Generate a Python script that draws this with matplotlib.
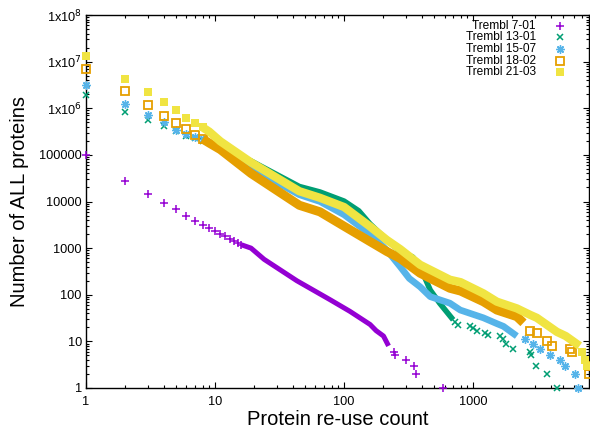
import matplotlib
matplotlib.use("Agg")
import matplotlib.pyplot as plt
from matplotlib.ticker import FixedLocator, LogLocator, NullFormatter

plt.rcParams['font.family'] = ['Liberation Sans', 'DejaVu Sans']

# ---------------- data ----------------
labels = ["Trembl 7-01", "Trembl 13-01", "Trembl 15-07", "Trembl 18-02", "Trembl 21-03"]

# Trembl 7-01
p_sep_x = [1, 2, 3, 4, 5, 6, 7, 8, 9, 10, 11, 12, 13, 14, 15, 16]
p_sep_y = [1.0e5, 2.7e4, 1.45e4, 9.5e3, 6.8e3, 5.0e3, 3.9e3, 3.2e3, 2.7e3, 2.35e3, 2.05e3, 1.82e3, 1.6e3,
           1.45e3, 1.3e3, 1.18e3]
p_band_x = [16, 19, 24, 43, 78, 111, 159, 177, 202, 221]
p_band_y = [1180, 1000, 575, 200, 78, 44, 23, 17, 13, 8]
p_tail_x = [242, 248, 303, 345, 359, 582]
p_tail_y = [6, 5, 4, 3, 2, 1]

# Trembl 13-01
g_sep_x = [1, 2, 3, 4, 5, 6, 7, 8]
g_sep_y = [1.95e6, 8.5e5, 5.6e5, 4.2e5, 3.2e5, 2.6e5, 2.3e5, 2.0e5]
g_band_x = [8, 9, 11, 19, 45, 65, 100, 130, 159, 214, 272, 340, 388, 465, 550, 700]
g_band_y = [2.0e5, 1.78e5, 1.51e5, 7.4e4, 2.1e4, 1.6e4, 1.02e4, 6300, 3300, 1510, 850, 645, 400, 126, 66, 29]
g_tail_x = [725, 769, 948, 1000, 1069, 1239, 1314, 1618, 1717, 1802, 2053, 2767, 2820, 3060, 3725, 4455]
g_tail_y = [26, 22, 21, 19, 17, 15, 14, 13, 11, 9, 7, 6, 5, 3, 2, 1]

# Trembl 15-07
b_sep_x = [1, 2, 3, 4, 5, 6, 7, 8]
b_sep_y = [3.2e6, 1.23e6, 7.1e5, 5.0e5, 3.5e5, 2.8e5, 2.45e5, 2.15e5]
b_band_x = [8, 9, 11, 19, 45, 65, 100, 159, 214, 272, 320, 388, 465, 660, 794, 1200, 1527, 1717, 2180]
b_band_y = [2.15e5, 1.8e5, 1.3e5, 5.2e4, 1.4e4, 1.0e4, 5200, 2000, 910, 400, 224, 148, 91, 66, 47, 32, 24, 21, 13]
b_tail_x = [2530, 2930, 3305, 3953, 4725, 5165, 6180, 6440]
b_tail_y = [11, 9, 7, 5, 4, 3, 2, 1]

# Trembl 18-02
o_sep_x = [1, 2, 3, 4, 5, 6, 7, 8]
o_sep_y = [7.1e6, 2.3e6, 1.15e6, 6.9e5, 4.8e5, 3.55e5, 2.7e5, 2.2e5]
o_band_x = [8, 9, 11, 19, 45, 65, 100, 159, 214, 272, 388, 660, 800, 1200, 1527, 2180, 2454]
o_band_y = [2.2e5, 1.8e5, 1.3e5, 4.0e4, 8300, 6000, 2950, 1380, 850, 600, 290, 138, 120, 71, 47, 34, 25]
o_tail_x = [2767, 3115, 3725, 4065, 5650, 5820, 7900, 7900]
o_tail_y = [17, 15, 10, 8, 7, 6, 3, 2]

# Trembl 21-03
y_sep_x = [1, 2, 3, 4, 5, 6, 7, 8]
y_sep_y = [1.35e7, 4.3e6, 2.2e6, 1.33e6, 9.0e5, 6.3e5, 4.9e5, 3.9e5]
y_band_x = [8, 9, 10, 11, 19, 45, 65, 100, 159, 214, 272, 388, 660, 800, 1200, 1527, 2180, 2767, 3115, 4455, 5220, 6680]
y_band_y = [3.9e5, 3.16e5, 2.45e5, 1.95e5, 6.9e4, 1.66e4, 1.2e4, 7600, 2900, 1500, 950, 440, 210, 186, 107, 71, 51, 37, 32, 16, 13, 8]
y_tail_x = [7000, 7300, 7600]
y_tail_y = [6, 4, 3]

y_ticks = [1, 10, 100, 1000, 1e4, 1e5, 1e6, 1e7, 1e8]
y_ticklabels = ["1", "10", "100", "1000", "10000", "100000", "1x10$^{6}$", "1x10$^{7}$", "1x10$^{8}$"]
x_ticks = [1, 10, 100, 1000]
x_ticklabels = ["1", "10", "100", "1000"]

# ---------------- styles ----------------
colors = ["#9400D3", "#009E73", "#56B4E9", "#E69F00", "#F0E442"]
markers = ["+", "x", (8, 2, 0), "s", "s"]
msizes = [6, 5, 6, 5.2, 5.5]
mfcs = [None, None, None, "none", colors[4]]
mews = [1.1, 1.1, 1.0, 1.3, 0.0]
band_lw = [3.6, 4.0, 4.8, 6.5, 6.0]

series = [
    (p_sep_x, p_sep_y, p_band_x, p_band_y, p_tail_x, p_tail_y),
    (g_sep_x, g_sep_y, g_band_x, g_band_y, g_tail_x, g_tail_y),
    (b_sep_x, b_sep_y, b_band_x, b_band_y, b_tail_x, b_tail_y),
    (o_sep_x, o_sep_y, o_band_x, o_band_y, o_tail_x, o_tail_y),
    (y_sep_x, y_sep_y, y_band_x, y_band_y, y_tail_x, y_tail_y),
]

fig = plt.figure(figsize=(5.9, 4.32), dpi=100)
ax = fig.add_axes([86 / 590, 1 - 388 / 432, (589 - 86) / 590, (388 - 15) / 432])
ax.set_xscale("log")
ax.set_yscale("log")
ax.set_xlim(1, 7900)
ax.set_ylim(1, 1e8)

for i, (sx, sy, bx, by, tx, ty) in enumerate(series):
    c = colors[i]
    mk = dict(marker=markers[i], ms=msizes[i], mec=c, mew=mews[i], ls="none", clip_on=False, zorder=3 + i)
    if mfcs[i] is not None:
        mk["mfc"] = mfcs[i]
    ax.plot(bx, by, color=c, lw=band_lw[i], solid_capstyle="butt", solid_joinstyle="round", zorder=3 + i)
    ax.plot(sx, sy, color=c, **mk)
    ax.plot(tx, ty, color=c, **mk)

# axes / ticks
ax.yaxis.set_major_locator(FixedLocator(y_ticks))
ax.set_yticklabels(y_ticklabels)
ax.xaxis.set_major_locator(FixedLocator(x_ticks))
ax.set_xticklabels(x_ticklabels)
ax.xaxis.set_minor_locator(LogLocator(base=10, subs=range(2, 10), numticks=20))
ax.yaxis.set_minor_locator(LogLocator(base=10, subs=range(2, 10), numticks=20))
ax.xaxis.set_minor_formatter(NullFormatter())
ax.yaxis.set_minor_formatter(NullFormatter())
ax.tick_params(which="both", direction="in", top=True, right=True, width=0.8, colors="black", labelsize=9.2)
ax.tick_params(which="major", length=4.5)
ax.tick_params(which="minor", length=2.3)
ax.tick_params(axis="x", pad=6)
ax.tick_params(axis="y", pad=3)
for s in ax.spines.values():
    s.set_linewidth(1.0)

ax.set_xlabel("Protein re-use count", fontsize=14.5, labelpad=1)
ax.set_ylabel("Number of ALL proteins", fontsize=14.5, labelpad=7)

# legend (gnuplot style: right-aligned text, marker at right)
leg_x_text = 0.894
leg_x_mark = 0.942
leg_y0 = 0.971
leg_dy = 0.031
for i, lab in enumerate(labels):
    yy = leg_y0 - i * leg_dy
    ax.text(leg_x_text, yy, lab, transform=ax.transAxes, ha="right", va="center", fontsize=8.6)
    kw = dict(marker=markers[i], ms=msizes[i], mec=colors[i], mew=mews[i], ls="none", color=colors[i])
    if mfcs[i] is not None:
        kw["mfc"] = mfcs[i]
    ax.plot([leg_x_mark], [yy], transform=ax.transAxes, clip_on=False, **kw)

fig.savefig("out.png", dpi=100)
